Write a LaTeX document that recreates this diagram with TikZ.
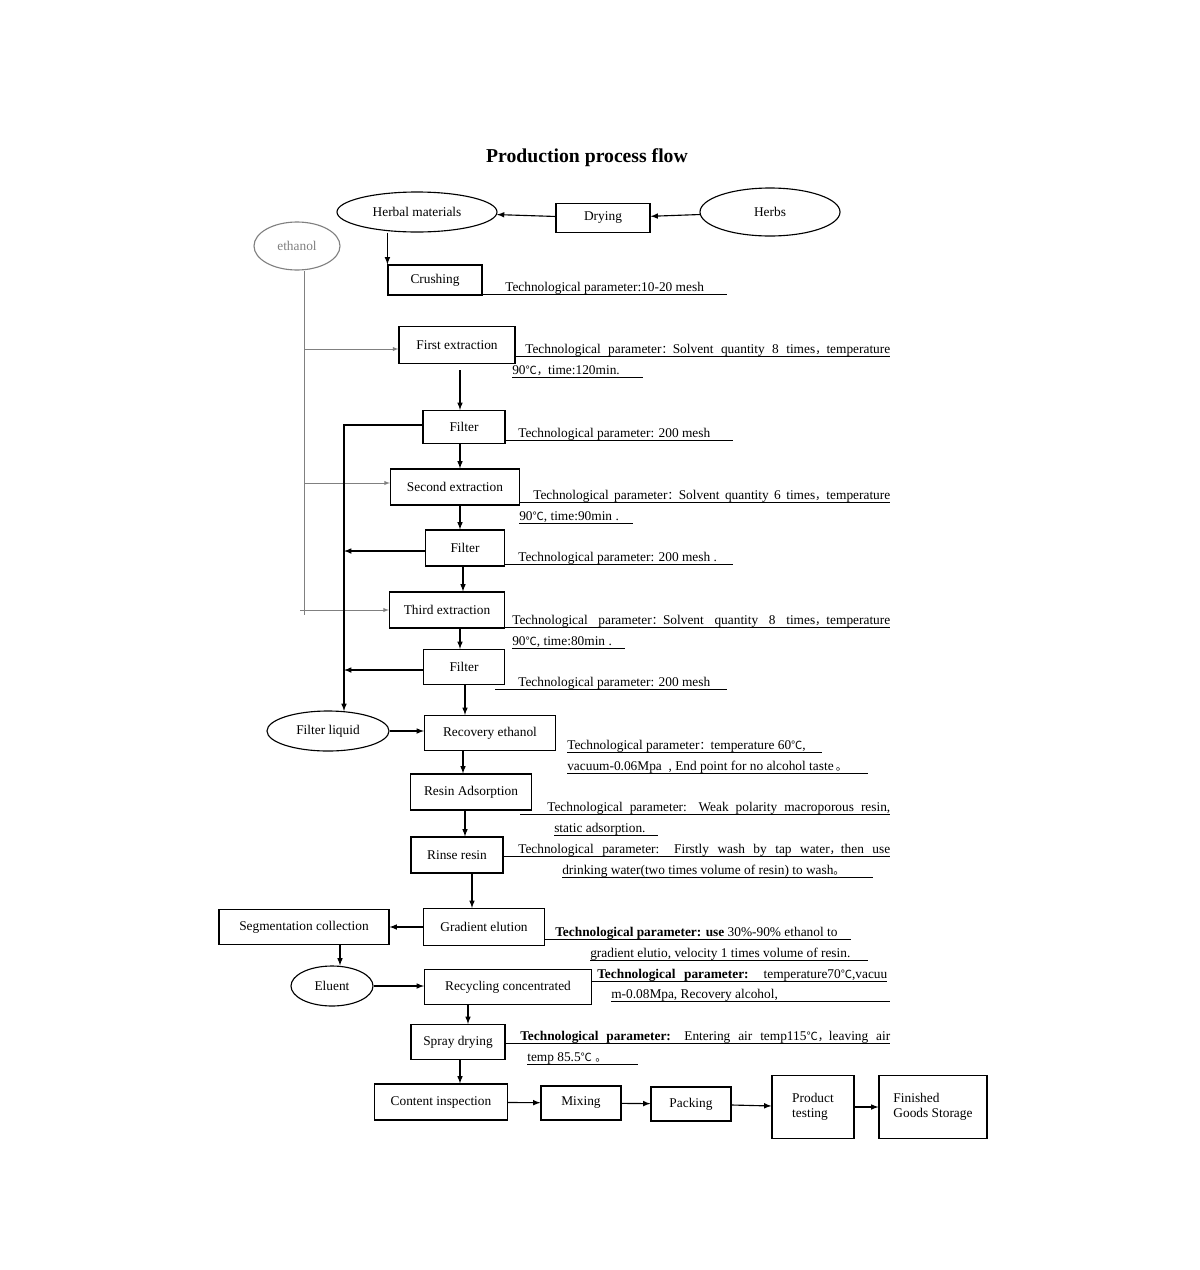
\documentclass[tikz,border=0pt]{standalone}
\usepackage{fontspec}
\setmainfont{Liberation Serif}
\newfontfamily\cjk{Noto Sans CJK SC}
\usetikzlibrary{positioning}
\newlength\px \setlength\px{0.025cm}
\newcommand\dC{{\cjk\fontsize{8}{9}\selectfont ℃}}
\newcommand\fc{{\cjk\fontsize{8}{9}\selectfont ：}}
\newcommand\fm{{\cjk\fontsize{8}{9}\selectfont ，}}
\tikzset{box/.style 2 args={draw,thick,minimum width=#1*0.025cm,minimum height=#2*0.025cm,inner sep=1pt},
         oval/.style 2 args={draw,thick,ellipse,minimum width=#1*0.025cm,minimum height=#2*0.025cm,inner sep=0pt},
         par/.style={anchor=base west,inner sep=0pt},
         flow/.style={thick,->,>=latex},
         feed/.style={gray,->,>=latex}}
\newcommand\tp[6]{% name, x, y, width, mode, text
  \node[par] (#1) at (#2,#3) {\makebox[#4\px][#5]{#6}};}
\newcommand\ul[3]{\draw[thin] (#1,#3+3) -- (#2,#3+3);}
\usetikzlibrary{shapes.geometric}
\begin{document}
\begin{tikzpicture}[x=0.025cm,y=-0.025cm,font=\fontsize{9.5}{11}\selectfont]
\useasboundingbox (0,0) rectangle (1200,1270);
\node[font=\bfseries\fontsize{14}{16}\selectfont] (title) at (587,158) {Production process flow};

%% raw materials
\node[oval={160}{40}] (herbal) at (417,212) {Herbal materials};
\node[box={94}{29}] (drying) at (603,218) {Drying};
\node[oval={140}{48}] (herbs) at (770,212) {Herbs};
\node[oval={86}{48},draw=gray,text=gray] (ethanol) at (297,246) {ethanol};
\node[box={94}{30}] (crush) at (435,280) {Crushing};
\draw[flow] (herbs) -- (drying);
\draw[flow] (drying) -- (herbal);
\draw[flow] (herbal.south -| crush.170) -- (crush.north -| crush.170);

%% extraction
\node[box={116}{37}] (ext1) at (457,345) {First extraction};
\node[box={82}{33}] (fil1) at (464,427) {Filter};
\node[box={129}{36}] (ext2) at (455,487) {Second extraction};
\node[box={79}{36}] (fil2) at (465,548) {Filter};
\node[box={115}{36}] (ext3) at (447,610) {Third extraction};
\node[box={81}{35}] (fil3) at (464,667) {Filter};
\coordinate (e1) at (460,370);
\draw[flow] (e1) -- (e1 |- fil1.north);
\draw[flow] (fil1.south -| 460,0) -- (ext2.north -| 460,0);
\draw[flow] (ext2.south -| 460,0) -- (fil2.north -| 460,0);
\draw[flow] (fil2.south -| 463,0) -- (ext3.north -| 463,0);
\draw[flow] (ext3.south -| 460,0) -- (fil3.north -| 460,0);

%% ethanol feed
\coordinate (eb) at (304,615);
\draw[gray] (ethanol.south -| 304,0) -- (eb);
\draw[feed] (304,349) -- (ext1.west |- 0,349);
\draw[feed] (304,483) -- (ext2.west |- 0,483);
\draw[feed] (300,610) -- (ext3.west);

%% filtrate
\node[oval={122}{40}] (liquid) at (328,731) {Filter liquid};
\node[box={131}{35}] (recov) at (490,733) {Recovery ethanol};
\draw[flow] (fil1.west |- 0,425) -- (344,425) -- (344,711);
\draw[flow] (fil2.west |- 0,551) -- (344,551);
\draw[flow] (fil3.west |- 0,670) -- (344,670);
\draw[flow] (liquid) -- (recov.west |- liquid);
\draw[flow] (fil3.south -| 465,0) -- (recov.north -| 465,0);

%% purification
\node[box={121}{36}] (resin) at (471,792) {Resin Adsorption};
\node[box={92}{36}] (rinse) at (457,855) {Rinse resin};
\node[box={121}{37}] (grad) at (484,927) {Gradient elution};
\node[box={170}{35}] (seg) at (304,927) {Segmentation collection};
\node[oval={82}{40}] (eluent) at (332,986) {Eluent};
\node[box={167}{35}] (recyc) at (508,987) {Recycling concentrated};
\node[box={94}{35}] (spray) at (458,1042) {Spray drying};
\draw[flow] (recov.south -| 463,0) -- (resin.north -| 463,0);
\draw[flow] (resin.south -| 465,0) -- (rinse.north -| 465,0);
\draw[flow] (rinse.south -| 472,0) -- (grad.north -| 472,0);
\draw[flow] (grad) -- (seg);
\draw[flow] (seg.south -| 340,0) -- (eluent.north -| 340,0);
\draw[flow] (eluent) -- (recyc.west |- eluent);
\draw[flow] (recyc.south -| 468,0) -- (spray.north -| 468,0);

%% packaging line
\node[box={133}{36}] (content) at (441,1102) {Content inspection};
\node[box={80}{34}] (mix) at (581,1103) {Mixing};
\node[box={80}{34}] (pack) at (691,1104) {Packing};
\node[box={82}{63},align=left] (test) at (813,1107) {Product\\testing};
\node[box={108}{63},align=left] (store) at (933,1107) {Finished\\Goods Storage};
\draw[flow] (spray.south -| 460,0) -- (content.north -| 460,0);
\draw[flow] (content) -- (mix);
\draw[flow] (mix) -- (pack);
\draw[flow] (pack) -- (test);
\draw[flow] (test) -- (store);

%% technological parameters
\tp{pc}{505}{291}{220}{l}{Technological parameter:10-20 mesh} \ul{482}{727}{291}
\tp{pe1}{525}{353}{365}{s}{Technological parameter\fc Solvent quantity 8 times\fm temperature} \ul{515}{890}{353}
\tp{pe1b}{512}{374}{130}{l}{90\dC\fm time:120min.} \ul{512}{643}{374}
\tp{pf1}{518}{437}{215}{l}{Technological parameter: 200 mesh} \ul{505}{733}{437}
\tp{pe2}{533}{499}{357}{s}{Technological parameter\fc Solvent quantity 6 times\fm temperature} \ul{520}{890}{499}
\tp{pe2b}{519}{520}{114}{l}{90\dC, time:90min .} \ul{519}{633}{520}
\tp{pf2}{518}{561}{215}{l}{Technological parameter: 200 mesh .} \ul{505}{733}{561}
\tp{pe3}{512}{624}{378}{s}{Technological parameter\fc Solvent quantity 8 times\fm temperature} \ul{505}{890}{624}
\tp{pe3b}{512}{645}{113}{l}{90\dC, time:80min .} \ul{512}{625}{645}
\tp{pf3}{518}{686}{209}{l}{Technological parameter: 200 mesh} \ul{495}{727}{686}
\tp{pr}{567}{749}{255}{l}{Technological parameter\fc temperature 60\dC,} \ul{567}{822}{749}
\tp{prb}{567}{770}{301}{l}{vacuum-0.06Mpa \ , End point for no alcohol taste\,{\cjk\fontsize{8}{9}\selectfont 。}} \ul{567}{868}{770}
\tp{pa}{547}{811}{343}{s}{Technological parameter: Weak polarity macroporous resin,} \ul{520}{890}{811}
\tp{pab}{554}{832}{104}{l}{static adsorption.} \ul{554}{658}{832}
\tp{pn}{518}{853}{372}{s}{Technological parameter: Firstly wash by tap water\fm then use} \ul{503}{890}{853}
\tp{pnb}{562}{874}{311}{l}{drinking water(two times volume of resin) to wash{\cjk\fontsize{8}{9}\selectfont 。}} \ul{562}{873}{874}
\tp{pg}{555}{936}{296}{l}{\textbf{Technological parameter: use} 30\%-90\% ethanol to} \ul{545}{851}{936}
\tp{pgb}{590}{957}{278}{l}{gradient elutio, velocity 1 times volume of resin.} \ul{590}{868}{957}
\tp{py}{597}{978}{290}{s}{\textbf{Technological parameter:} temperature70\dC,vacuu} \ul{592}{887}{978}
\tp{pyb}{611}{998}{279}{l}{m-0.08Mpa, Recovery alcohol,} \ul{611}{890}{998}
\tp{ps}{520}{1040}{370}{s}{\textbf{Technological parameter:} Entering air temp115\dC\fm leaving air} \ul{505}{890}{1040}
\tp{psb}{527}{1061}{111}{l}{temp 85.5\dC \ {\cjk\fontsize{8}{9}\selectfont 。}} \ul{527}{638}{1061}
\end{tikzpicture}
\end{document}
